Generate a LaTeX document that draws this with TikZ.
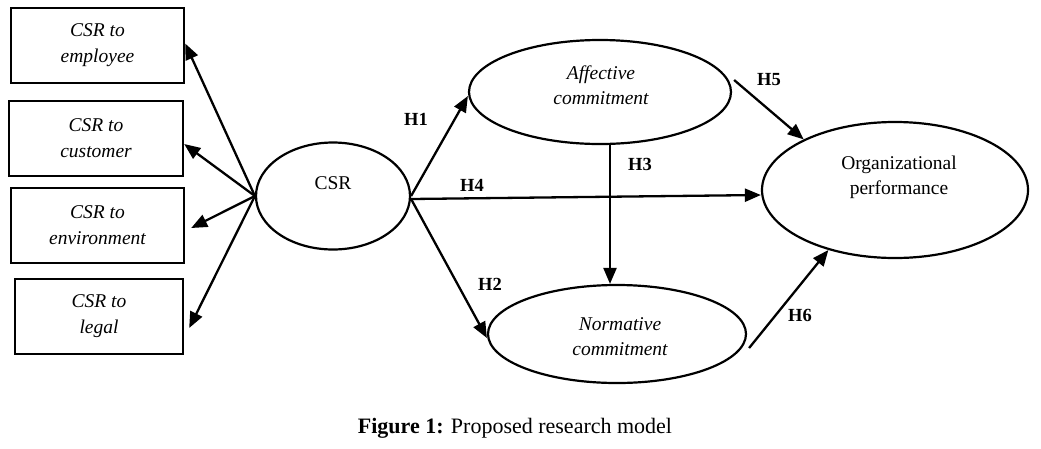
\documentclass[tikz,border=0pt]{standalone}
\usepackage{fontspec}
\setmainfont{Liberation Serif}
\usetikzlibrary{arrows.meta,shapes.geometric}
\begin{document}
\begin{tikzpicture}[x=1pt,y=-1pt,
  box/.style={draw,line width=2.4pt,inner sep=0pt,align=center,
    minimum height=75pt,font=\fontsize{19.5}{26}\selectfont\itshape},
  ell/.style={draw,ellipse,line width=2.2pt,inner sep=0pt},
  txt/.style={align=center,inner sep=0pt,font=\fontsize{19.5}{25}\selectfont},
  hyp/.style={inner sep=0pt,font=\fontsize{18.5}{20}\selectfont\bfseries},
  arr/.style={line width=2.3pt,-{Triangle[length=16pt,width=13pt]}}]
\useasboundingbox (0,0) rectangle (1041,448);
% boxes
\node[box,minimum width=173pt] (emp) at (97.5,45.5) {CSR to\\employee};
\node[box,minimum width=174pt] (cus) at (96,138.5) {CSR to\\customer};
\node[box,minimum width=173pt] (env) at (97.5,225.5) {CSR to\\environment};
\node[box,minimum width=168pt] (leg) at (99,316.5) {CSR to\\legal};
% ellipses
\node[ell,minimum width=154pt,minimum height=107pt] (csr) at (333,196) {};
\node[txt] (csrt) at (333,183) {CSR};
\node[ell,minimum width=262pt,minimum height=104pt] (aff) at (600,92) {};
\node[txt,font=\fontsize{19.5}{25}\selectfont\itshape] (afft) at (601,85) {Affective\\commitment};
\node[ell,minimum width=258pt,minimum height=98pt] (nor) at (617,334) {};
\node[txt,font=\fontsize{19.5}{25}\selectfont\itshape] (nort) at (620,337) {Normative\\commitment};
\node[ell,minimum width=266pt,minimum height=136pt] (org) at (895,190) {};
\node[txt] (orgt) at (899,177) {Organizational\\performance};
% left arrows
\draw[arr] (csr.west) -- ([yshift=2pt]emp.east);
\draw[arr] (csr.west) -- ([yshift=-5.5pt]cus.east);
\draw[arr] (csr.west) -- ([xshift=6pt,yshift=-2.5pt]env.east);
\draw[arr] (csr.west) -- ([xshift=5pt,yshift=-11.5pt]leg.east);
% hypotheses
\draw[arr] (csr.east) -- ([yshift=-4pt]aff.west) ;
\draw[arr] ([yshift=-3pt]csr.east) -- ([yshift=-5pt]org.west);
\draw[arr] ([yshift=-3pt]csr.east) -- ([yshift=-4pt]nor.west);
\draw[arr] ([xshift=10pt]aff.south) -- ([xshift=-7pt]nor.north);
\draw[arr] ([xshift=2pt,yshift=12pt]aff.east) -- (org.151);
\draw[arr] ([xshift=2pt,yshift=-14pt]nor.east) -- (org.222);
\node[hyp] (h1) at (416,119) {H1};
\node[hyp] (h2) at (490,284) {H2};
\node[hyp] (h3) at (640,164) {H3};
\node[hyp] (h4) at (472,185) {H4};
\node[hyp] (h5) at (769,80) {H5};
\node[hyp] (h6) at (800,315) {H6};
% caption
\node[anchor=base,inner sep=0pt,font=\fontsize{22}{24}\selectfont] (cap) at (515,433) {\textbf{Figure 1:} Proposed research model};
\end{tikzpicture}
\end{document}
